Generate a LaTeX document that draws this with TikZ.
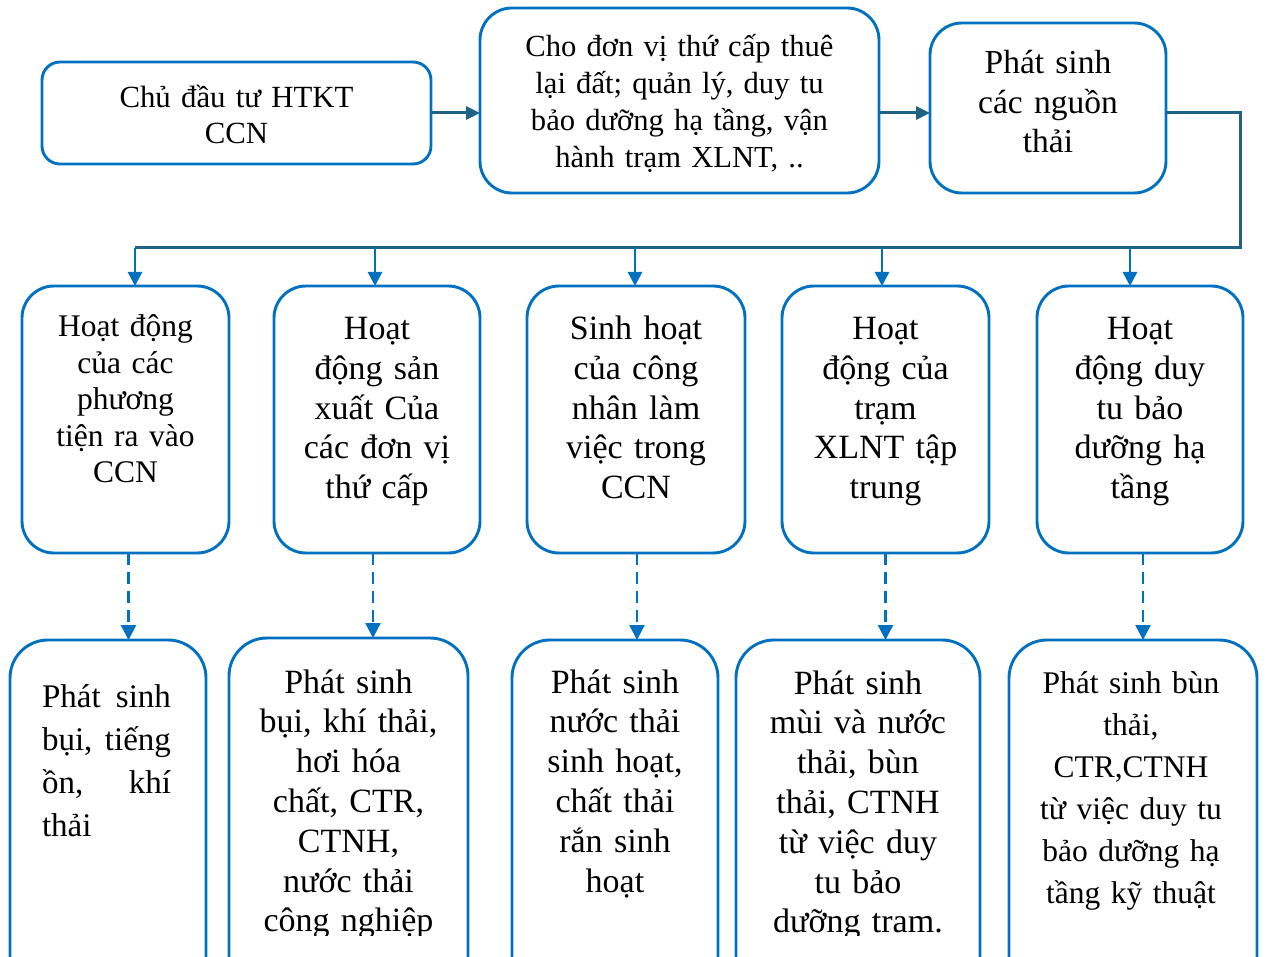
\documentclass[tikz,border=0pt]{standalone}
\usepackage{fontspec}
\setmainfont{Liberation Serif}
\usetikzlibrary{arrows.meta}
\definecolor{boxblue}{RGB}{0,112,192}
\definecolor{linkteal}{RGB}{30,99,133}
\begin{document}
\begin{tikzpicture}[x=1pt,y=-1pt,
  box/.style={draw=boxblue, line width=2.9pt, outer sep=0pt, inner sep=0pt},
  txt/.style={inner sep=0pt, outer sep=0pt, anchor=base, align=center},
  flow/.style={draw=linkteal, line width=3pt, -{Triangle[length=14pt,width=13pt]}},
  bus/.style={draw=linkteal, line width=3pt},
  drop/.style={draw=boxblue, line width=2.7pt, -{Triangle[length=14pt,width=14pt]}},
  hint/.style={draw=boxblue, line width=2.5pt, dash pattern=on 12pt off 7pt, -{Triangle[length=15pt,width=15pt]}},
  fmid/.style={font=\fontsize{34}{39.6}\selectfont},
  flow2/.style={font=\fontsize{34}{39.8}\selectfont},
]
\useasboundingbox (0,0) rectangle (1267,957);
\clip (0,0) rectangle (1267,957);

% top row
\node[box, rounded corners=18pt, minimum width=389pt, minimum height=102pt] (A) at (236.5,113) {};
\node[box, rounded corners=32pt, minimum width=399pt, minimum height=185pt] (B) at (679.5,100.5) {};
\node[box, rounded corners=32pt, minimum width=236pt, minimum height=170pt] (C) at (1048,108) {};

\node[txt, font=\fontsize{30.8}{36}\selectfont, text width=370pt] (tA) at (236.5,108) {Chủ đầu tư HTKT\\CCN};
\node[txt, font=\fontsize{30.6}{36.7}\selectfont, text width=390pt] (tB) at (679.5,57) {Cho đơn vị thứ cấp thuê\\lại đất; quản lý, duy tu\\bảo dưỡng hạ tầng, vận\\hành trạm XLNT, ..};
\node[txt, font=\fontsize{33.5}{39.5}\selectfont, text width=226pt] (tC) at (1048,74) {Phát sinh\\các nguồn\\thải};

% middle row
\node[box, rounded corners=32pt, minimum width=207pt, minimum height=267pt] (M1) at (125.5,419.5) {};
\node[box, rounded corners=32pt, minimum width=206pt, minimum height=267pt] (M2) at (377,419.5) {};
\node[box, rounded corners=32pt, minimum width=218pt, minimum height=267pt] (M3) at (636,419.5) {};
\node[box, rounded corners=32pt, minimum width=207pt, minimum height=267pt] (M4) at (885.5,419.5) {};
\node[box, rounded corners=32pt, minimum width=206pt, minimum height=267pt] (M5) at (1140,419.5) {};

\node[txt, font=\fontsize{31.5}{36.5}\selectfont, text width=200pt] (tM1) at (125.5,337) {Hoạt động\\của các\\phương\\tiện ra vào\\CCN};
\node[txt, fmid, text width=200pt] (tM2) at (377,340) {Hoạt\\động sản\\xuất Của\\các đơn vị\\thứ cấp};
\node[txt, fmid, text width=210pt] (tM3) at (636,340) {Sinh hoạt\\của công\\nhân làm\\việc trong\\CCN};
\node[txt, fmid, text width=200pt] (tM4) at (885.5,340) {Hoạt\\động của\\trạm\\XLNT tập\\trung};
\node[txt, fmid, text width=200pt] (tM5) at (1140,340) {Hoạt\\động duy\\tu bảo\\dưỡng hạ\\tầng};

% bottom row
\node[box, rounded corners=38pt, minimum width=196pt, minimum height=360pt] (L1) at (108,820) {};
\node[box, rounded corners=38pt, minimum width=239pt, minimum height=364pt] (L2) at (348.5,820) {};
\node[box, rounded corners=38pt, minimum width=206pt, minimum height=360pt] (L3) at (615,820) {};
\node[box, rounded corners=38pt, minimum width=244pt, minimum height=360pt] (L4) at (858,820) {};
\node[box, rounded corners=38pt, minimum width=248pt, minimum height=360pt] (L5) at (1133,820) {};

\begin{scope}
\clip (0,0) rectangle (1267,935);
\node[txt, align=left, font=\fontsize{33}{43.3}\selectfont, text width=129pt] (tL1) at (106.5,707) {Phát\hfill sinh\\\mbox{bụi,}\hfill\mbox{tiếng}\\ồn,\hfill khí\\thải};
\node[txt, flow2, text width=232pt] (tL2) at (348.5,693) {Phát sinh\\bụi, khí thải,\\hơi hóa\\chất, CTR,\\CTNH,\\nước thải\\công nghiệp};
\node[txt, flow2, text width=200pt] (tL3) at (615,693) {Phát sinh\\nước thải\\sinh hoạt,\\chất thải\\rắn sinh\\hoạt};
\node[txt, flow2, text width=236pt] (tL4) at (858,694) {Phát sinh\\mùi và nước\\thải, bùn\\thải, CTNH\\từ việc duy\\tu bảo\\dưỡng tram.};
\node[txt, font=\fontsize{31.5}{42}\selectfont, text width=240pt] (tL5) at (1131,693) {Phát sinh bùn\\thải,\\CTR,CTNH\\từ việc duy tu\\bảo dưỡng hạ\\tầng kỹ thuật};
\end{scope}

% connectors along the top
\coordinate (busR) at (1240,248);
\coordinate (b1) at (135,248);
\coordinate (b2) at (375,248);
\coordinate (b3) at (635,248);
\coordinate (b4) at (882,248);
\coordinate (b5) at (1130,248);

\draw[flow] (A.east) -- (A.east -| B.west);
\draw[flow] (A.east -| B.east) -- (A.east -| C.west);
\draw[bus] (A.east -| C.east) -| (busR) -- (b1);

\draw[drop] (b1) -- (b1 |- M1.north);
\draw[drop] (b2) -- (b2 |- M2.north);
\draw[drop] (b3) -- (b3 |- M3.north);
\draw[drop] (b4) -- (b4 |- M4.north);
\draw[drop] (b5) -- (b5 |- M5.north);

% dashed links to the outcomes
\draw[hint] ([xshift=3pt]M1.south) -- ([xshift=3pt]M1.south |- L1.north);
\draw[hint] ([xshift=-4pt]M2.south) -- ([xshift=-4pt]M2.south |- L2.north);
\draw[hint] ([xshift=1pt]M3.south) -- ([xshift=1pt]M3.south |- L3.north);
\draw[hint] (M4.south) -- (M4.south |- L4.north);
\draw[hint] ([xshift=3pt]M5.south) -- ([xshift=3pt]M5.south |- L5.north);
\end{tikzpicture}
\end{document}
